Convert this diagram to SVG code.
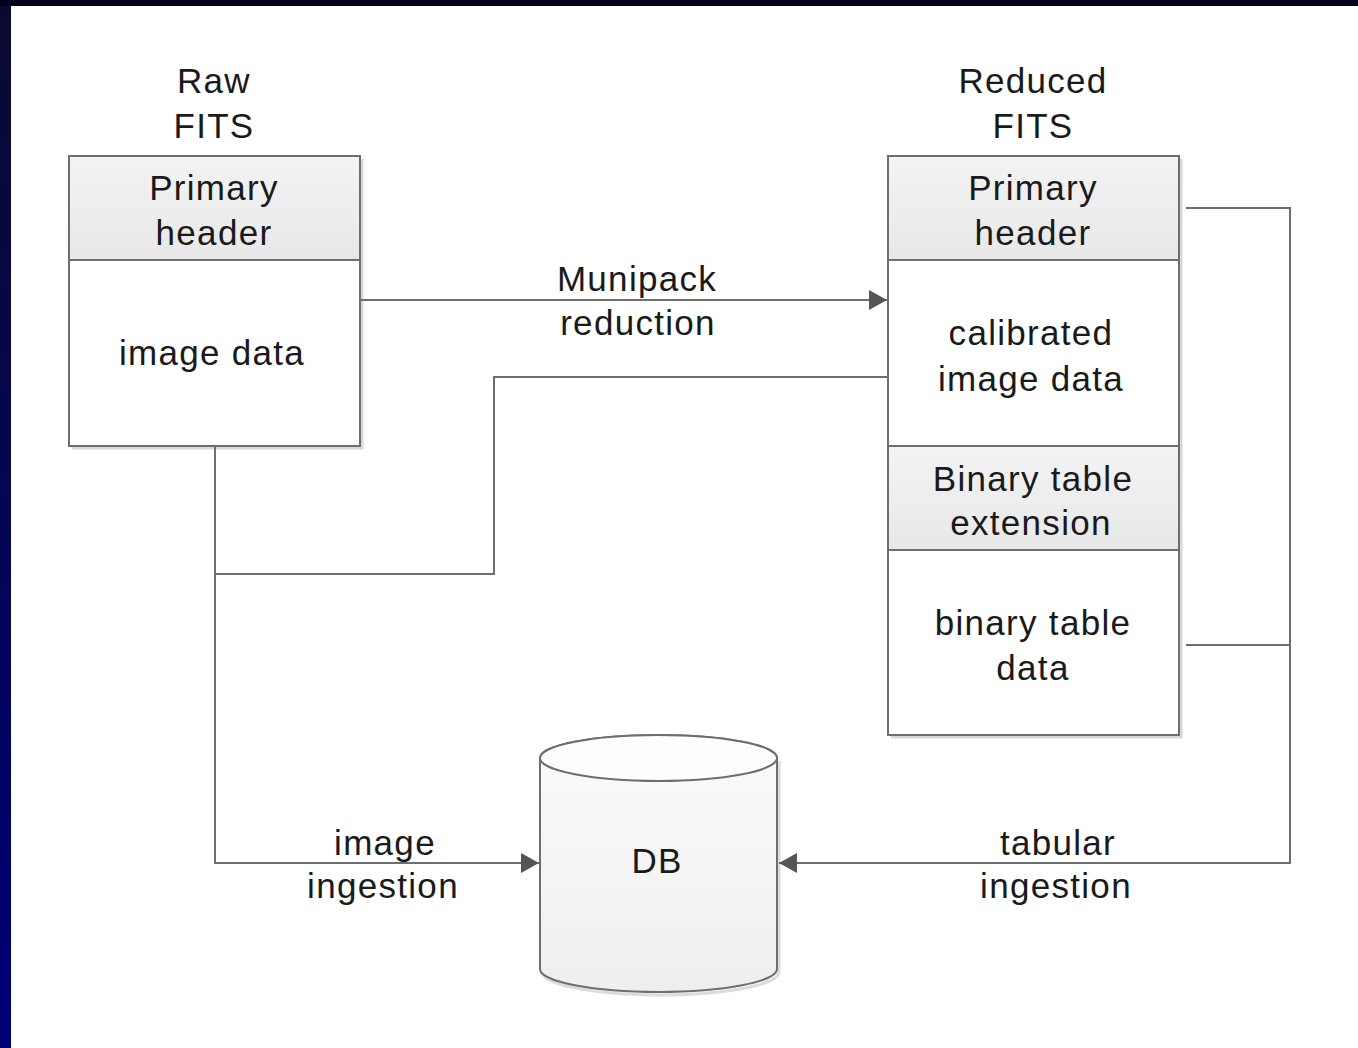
<svg xmlns="http://www.w3.org/2000/svg" width="1358" height="1048" viewBox="0 0 1358 1048">
<defs>
<style>
text{font-family:"Liberation Sans",Arial,sans-serif;font-size:35px;fill:#1a1a1a;text-anchor:middle;letter-spacing:1.3px}
.box{fill:#ffffff;stroke:#6e6e6e;stroke-width:2}
.hdr{fill:url(#hg);stroke:#6e6e6e;stroke-width:2}
.sh{fill:none;stroke:#d8d8d8;stroke-width:3}
.ln{fill:none;stroke:#6e6e6e;stroke-width:2}
</style>
<linearGradient id="hg" x1="0" y1="0" x2="0" y2="1"><stop offset="0" stop-color="#f3f3f3"/><stop offset="1" stop-color="#e8e8e8"/></linearGradient>
<linearGradient id="dbg" x1="0" y1="0" x2="0" y2="1"><stop offset="0" stop-color="#fbfbfb"/><stop offset="1" stop-color="#eeeeee"/></linearGradient>
<linearGradient id="bl" x1="0" y1="0" x2="0" y2="1"><stop offset="0" stop-color="#0a0a30"/><stop offset="1" stop-color="#000078"/></linearGradient>
<marker id="ah" markerWidth="20" markerHeight="22" refX="18" refY="11" orient="auto" markerUnits="userSpaceOnUse"><path d="M0,1 L18,11 L0,21 Z" fill="#555555"/></marker>
</defs>
<rect x="0" y="0" width="1358" height="1048" fill="#ffffff"/>
<rect x="0" y="0" width="11" height="1048" fill="url(#bl)"/>
<rect x="0" y="0" width="1358" height="6" fill="#03031f"/>

<g id="raw-fits">
<text x="214" y="93">Raw</text>
<text x="214" y="138">FITS</text>
<path class="sh" d="M362,159 V448 H72"/>
<rect class="hdr" x="69" y="156" width="291" height="104"/>
<rect class="box" x="69" y="260" width="291" height="186"/>
<text x="214" y="200">Primary</text>
<text x="214" y="245">header</text>
<text x="212" y="365">image data</text>
</g>

<g id="reduced-fits">
<text x="1033" y="93">Reduced</text>
<text x="1033" y="138">FITS</text>
<path class="sh" d="M1181,159 V737 H891"/>
<rect class="hdr" x="888" y="156" width="291" height="104"/>
<rect class="box" x="888" y="260" width="291" height="186"/>
<rect class="hdr" x="888" y="446" width="291" height="104"/>
<rect class="box" x="888" y="550" width="291" height="185"/>
<text x="1033" y="200">Primary</text>
<text x="1033" y="245">header</text>
<text x="1031" y="345">calibrated</text>
<text x="1031" y="391">image data</text>
<text x="1033" y="491">Binary table</text>
<text x="1031" y="535">extension</text>
<text x="1033" y="635">binary table</text>
<text x="1033" y="680">data</text>
</g>

<g id="db">
<path d="M542,761 V972 A118.5,23 0 0 0 779,972 V761" fill="none" stroke="#dcdcdc" stroke-width="3"/>
<path d="M540,758 V969 A118.5,23 0 0 0 777,969 V758 A118.5,23 0 0 0 540,758 Z" fill="url(#dbg)" stroke="#6e6e6e" stroke-width="2"/>
<ellipse cx="658.5" cy="758" rx="118.5" ry="23" fill="#fdfdfd" stroke="#6e6e6e" stroke-width="2"/>
<text x="657" y="873">DB</text>
</g>

<g id="connectors">
<path class="ln" d="M360,300 H887" marker-end="url(#ah)"/>
<path class="ln" d="M888,377 H494 V574 H215"/>
<path class="ln" d="M215,446 V863 H539" marker-end="url(#ah)"/>
<path class="ln" d="M1186,208 H1290 V863 H779" marker-end="url(#ah)"/>
<path class="ln" d="M1186,645 H1290"/>
<text x="637" y="291">Munipack</text>
<text x="638" y="335">reduction</text>
<text x="385" y="855">image</text>
<text x="383" y="898">ingestion</text>
<text x="1058" y="855">tabular</text>
<text x="1056" y="898">ingestion</text>
</g>
</svg>
